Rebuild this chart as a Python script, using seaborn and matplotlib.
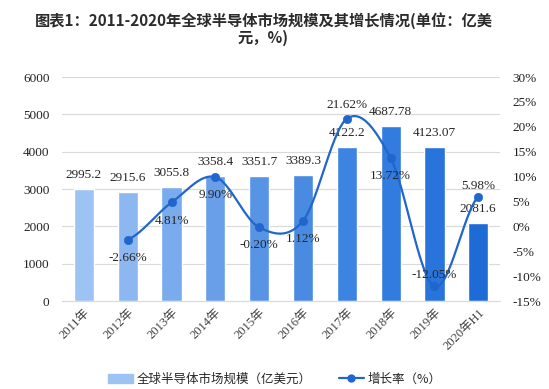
import numpy as np
import matplotlib as mpl
mpl.use('Agg')

import matplotlib.pyplot as plt
import seaborn as sns
import pandas as pd
from matplotlib.patches import Patch
from matplotlib.lines import Line2D

# data
years = ['2011年', '2012年', '2013年', '2014年', '2015年', '2016年',
         '2017年', '2018年', '2019年', '2020年H1']
market_size = [2995.2, 2915.6, 3055.8, 3358.4, 3351.7, 3389.3,
               4122.2, 4687.78, 4123.07, 2081.6]
size_labels = ['2995.2', '2915.6', '3055.8', '3358.4', '3351.7', '3389.3',
               '4122.2', '4687.78', '4123.07', '2081.6']
growth_years = years[1:]
growth = [-2.66, 4.81, 9.90, -0.20, 1.12, 21.62, 13.72, -12.05, 5.98]

title = '图表1：2011-2020年全球半导体市场规模及其增长情况(单位：亿美\n元，%)'
bar_name = '全球半导体市场规模（亿美元）'
line_name = '增长率（%）'

# style
bar_colors = ['#9dc3f5', '#8cb7f0', '#7aabec', '#699fe8', '#5894e4',
              '#4a8be2', '#3d84e2', '#317cde', '#2874da', '#1e6bd6']
line_color = '#2166cc'
serif = ['Liberation Serif', 'Noto Sans CJK SC']
cjk = ['Noto Sans CJK SC', 'DejaVu Sans']


def smooth(xs, ys, n=30):
    # excel-like smoothed line (catmull-rom through the points)
    xs = np.asarray(xs, float)
    ys = np.asarray(ys, float)
    px = np.concatenate([[2 * xs[0] - xs[1]], xs, [2 * xs[-1] - xs[-2]]])
    py = np.concatenate([[ys[0]], ys, [ys[-1]]])
    outx, outy = [], []
    for i in range(1, len(px) - 2):
        t = np.linspace(0, 1, n)
        for p, out in ((px, outx), (py, outy)):
            p0, p1, p2, p3 = p[i - 1], p[i], p[i + 1], p[i + 2]
            out.append(0.5 * ((2 * p1) + (-p0 + p2) * t
                              + (2 * p0 - 5 * p1 + 4 * p2 - p3) * t ** 2
                              + (-p0 + 3 * p1 - 3 * p2 + p3) * t ** 3))
    return np.concatenate(outx), np.concatenate(outy)


def main():
    sns.set_style('white')
    plt.rcParams['font.family'] = cjk

    df = pd.DataFrame({'year': years, 'size': market_size})
    gdf = pd.DataFrame({'year': growth_years, 'growth': growth})
    gdf['pos'] = [years.index(y) for y in growth_years]

    fig = plt.figure(figsize=(5.49, 3.89), dpi=100)
    ax = fig.add_axes([0.113, 0.226, 0.798, 0.576])

    sns.barplot(data=df, x='year', y='size', hue='year', palette=bar_colors,
                legend=False, width=0.46, saturation=1, ax=ax)
    ax.set_ylim(0, 6000)
    ax.set_yticks(range(0, 6001, 1000))
    ax.set_xlim(-0.5, len(years) - 0.5)
    ax.grid(axis='y', color='#d9d9d9', lw=0.8)
    ax.set_axisbelow(True)
    for s in ['top', 'left', 'right']:
        ax.spines[s].set_visible(False)
    ax.spines['bottom'].set_color('#d9d9d9')
    ax.set_xlabel('')
    ax.set_ylabel('')
    ax.tick_params(axis='both', length=0)
    ax.tick_params(axis='y', pad=9, labelfontfamily='Liberation Serif',
                   labelsize=9.5, labelcolor='#222222')
    ax.tick_params(axis='x', pad=4)
    ax.set_xticks(range(len(years)))
    ax.set_xticklabels(years, rotation=45, ha='right', rotation_mode='anchor',
                       family=serif, fontsize=9, color='#404040')

    for i, (v, s) in enumerate(zip(market_size, size_labels)):
        ax.annotate(s, (i, v), xytext=(0, 10), textcoords='offset points',
                    ha='center', va='center', family=serif, fontsize=9.5)

    ax2 = ax.twinx()
    sx, sy = smooth(gdf['pos'], gdf['growth'])
    ax2.plot(sx, sy, color=line_color, lw=1.6, zorder=3)
    sns.scatterplot(data=gdf, x='pos', y='growth', color=line_color, s=36,
                    edgecolor=line_color, zorder=4, ax=ax2)
    ax2.set_ylim(-15, 30)
    ax2.set_yticks(range(-15, 31, 5))
    ax2.set_yticklabels([f'{t}%' for t in range(-15, 31, 5)],
                        family='Liberation Serif', fontsize=9.5,
                        color='#222222')
    ax2.tick_params(axis='y', length=0, pad=9)
    ax2.set_xlim(-0.5, len(years) - 0.5)
    ax2.set_ylabel('')
    ax2.set_xlabel('')
    for s in ax2.spines.values():
        s.set_visible(False)

    for p, g in zip(gdf['pos'], growth):
        if g > 20:
            dy = 10
        elif p >= 8:
            dy = 8
        elif g < -10:
            dy = 6
        else:
            dy = -13
        ax2.annotate(f'{g:.2f}%', (p, g), xytext=(0, dy),
                     textcoords='offset points', ha='center', va='center',
                     family=serif, fontsize=9.5)

    fig.text(0.48, 0.925, title, ha='center', va='center', fontsize=11,
             weight='bold', color='#2b2b2b', family=cjk, linespacing=1.1)

    handles = [Patch(color=bar_colors[0]),
               Line2D([], [], color=line_color, lw=1.6, marker='o', ms=5)]
    fig.legend(handles, [bar_name, line_name], loc='center',
               bbox_to_anchor=(0.5, 0.025), ncol=2, frameon=False,
               columnspacing=2.2, handlelength=2.0, handletextpad=0.3,
               prop={'family': cjk, 'size': 9})

    fig.savefig('out.png', dpi=100)
    plt.close()


if __name__ == '__main__':
    main()
